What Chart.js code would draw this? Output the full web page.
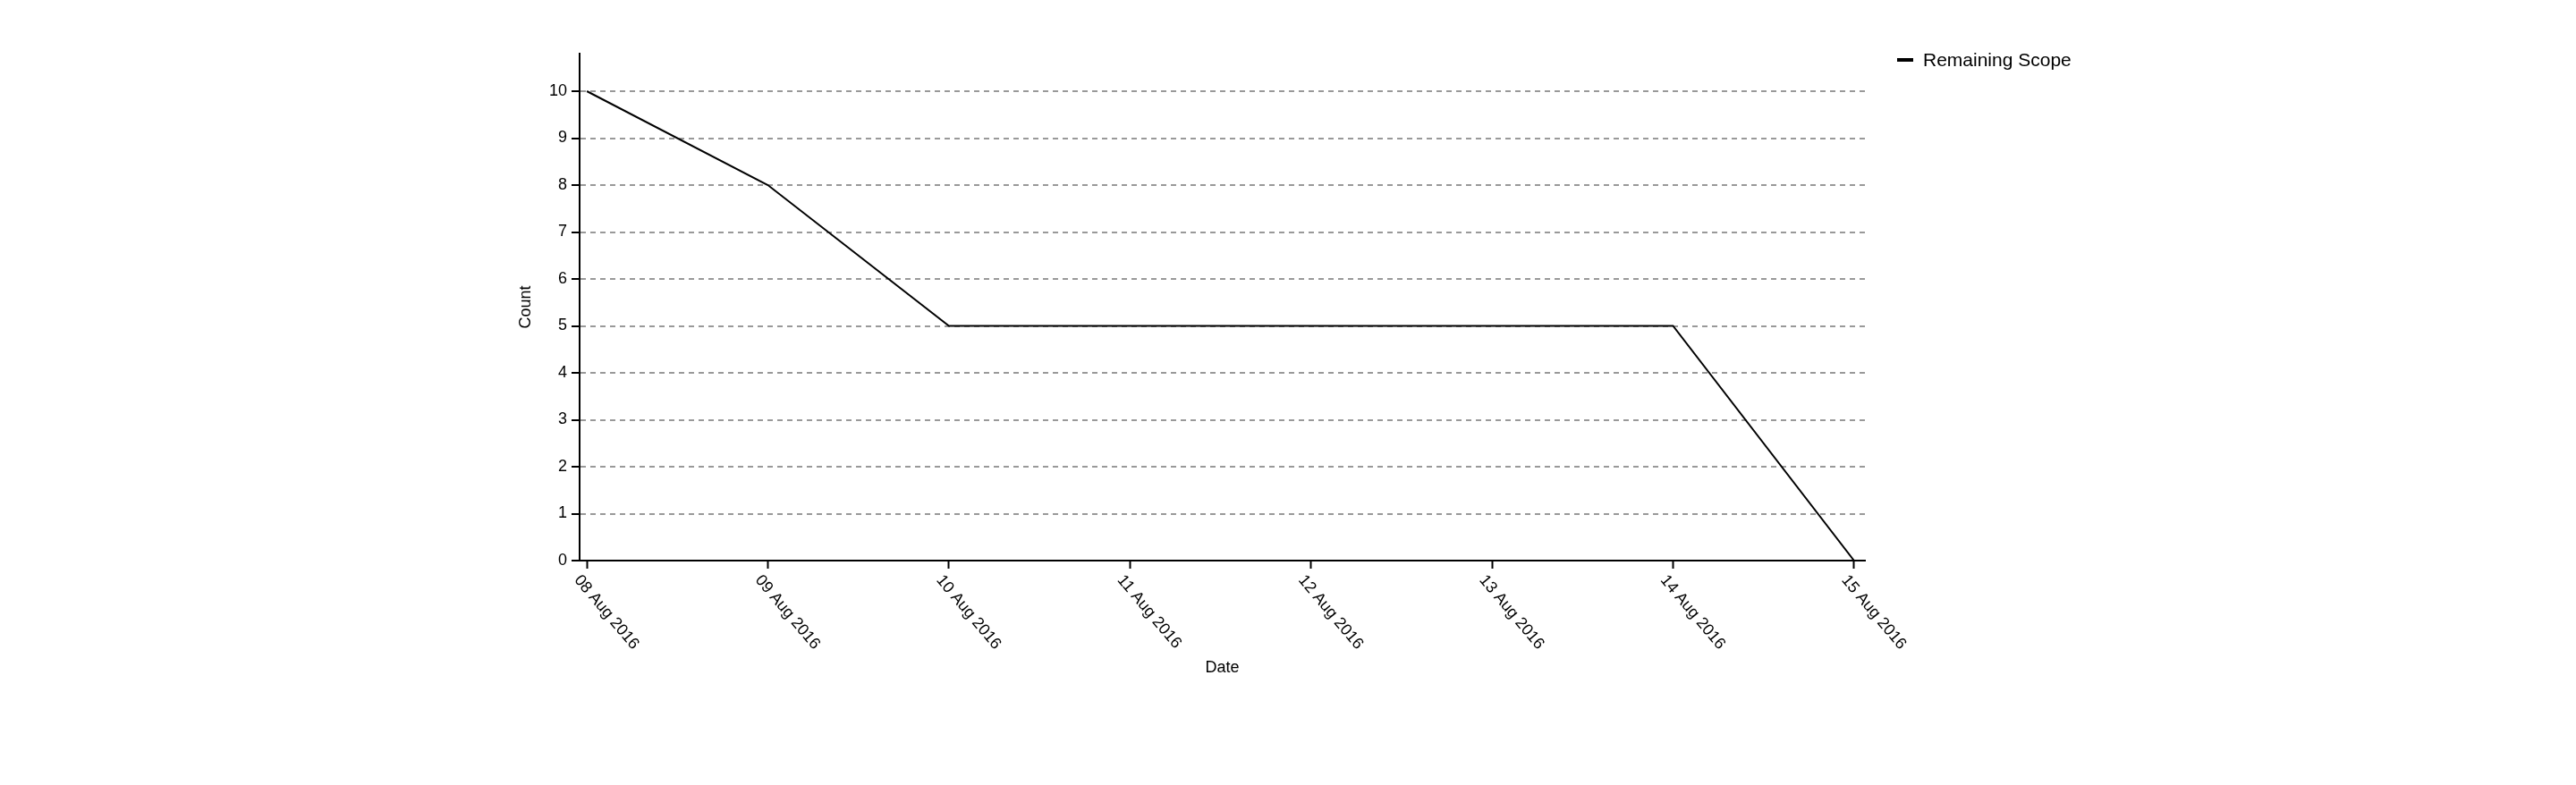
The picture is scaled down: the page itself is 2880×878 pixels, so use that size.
<!DOCTYPE html>
<html>
<head>
<meta charset="utf-8">
<script src="https://cdn.jsdelivr.net/npm/chart.js@4"></script>
<style>
  html, body { margin: 0; padding: 0; background: #fff; }
  #wrap { width: 2880px; height: 878px; }
</style>
</head>
<body>
<div id="wrap"><canvas id="burndown" width="2880" height="878"></canvas></div>
<script>
// chart data
const dateLabels = ['08 Aug 2016', '09 Aug 2016', '10 Aug 2016', '11 Aug 2016',
                    '12 Aug 2016', '13 Aug 2016', '14 Aug 2016', '15 Aug 2016'];
const remainingScope = [10, 8, 5, 5, 5, 5, 5, 0];
const countTicks = [0, 1, 2, 3, 4, 5, 6, 7, 8, 9, 10];
const seriesName = 'Remaining Scope';

const FONT = '"Liberation Sans", Arial, sans-serif';

// rotated date labels, axis titles and legend
const labelPlugin = {
    id: 'labels',
    afterDraw(chart) {
        const ctx = chart.ctx;
        const x = chart.scales.x;
        const area = chart.chartArea;
        ctx.save();
        ctx.font = '18px ' + FONT;
        ctx.fillStyle = '#000';
        ctx.textAlign = 'left';
        ctx.textBaseline = 'top';
        dateLabels.forEach((label, i) => {
            const px = x.getPixelForValue(i);
            ctx.save();
            ctx.translate(px - 4, area.bottom + 13);
            ctx.rotate(50 * Math.PI / 180);
            ctx.fillText(label, 0, 0);
            ctx.restore();
        });
        // axis titles
        ctx.textAlign = 'center';
        ctx.textBaseline = 'middle';
        ctx.fillText('Date', (area.left + area.right) / 2, 747);
        ctx.save();
        ctx.translate(588, (area.top + area.bottom) / 2);
        ctx.rotate(-Math.PI / 2);
        ctx.fillText('Count', 0, 0);
        ctx.restore();
        // legend
        ctx.fillRect(2121, 65, 18, 4);
        ctx.font = '21px ' + FONT;
        ctx.textAlign = 'left';
        ctx.fillText(seriesName, 2150, 68);
        ctx.restore();
    }
};

new Chart(document.getElementById('burndown'), {
    type: 'line',
    data: {
        datasets: [{
            label: seriesName,
            data: remainingScope.map((v, i) => ({ x: i, y: v })),
            borderColor: '#000',
            borderWidth: 2,
            pointRadius: 0,
            tension: 0
        }]
    },
    options: {
        responsive: false,
        animation: false,
        layout: { padding: { left: 0, right: 795, top: 60, bottom: 0 } },
        plugins: { legend: { display: false }, tooltip: { enabled: false } },
        scales: {
            x: {
                type: 'linear',
                min: -0.04,
                max: 7.06,
                afterBuildTicks: (s) => { s.ticks = dateLabels.map((_, i) => ({ value: i })); },
                afterFit: (s) => { s.height = 251; },
                ticks: { display: false },
                grid: { display: true, drawOnChartArea: false, tickLength: 9, tickColor: '#000', tickWidth: 2 },
                border: { color: '#000', width: 2 }
            },
            y: {
                min: 0,
                max: 10.8,
                afterBuildTicks: (s) => { s.ticks = countTicks.map(v => ({ value: v })); },
                afterFit: (s) => { s.width = 648; },
                ticks: { color: '#000', font: { family: FONT, size: 18 }, padding: 5 },
                grid: {
                    color: (c) => c.tick && c.tick.value === 0 ? 'rgba(0,0,0,0)' : '#999',
                    lineWidth: 2,
                    tickLength: 9,
                    tickColor: '#000',
                    tickWidth: 2,
                    tickBorderDash: []
                },
                border: { color: '#000', width: 2, dash: [6, 5] }
            }
        }
    },
    plugins: [labelPlugin]
});
</script>
</body>
</html>
